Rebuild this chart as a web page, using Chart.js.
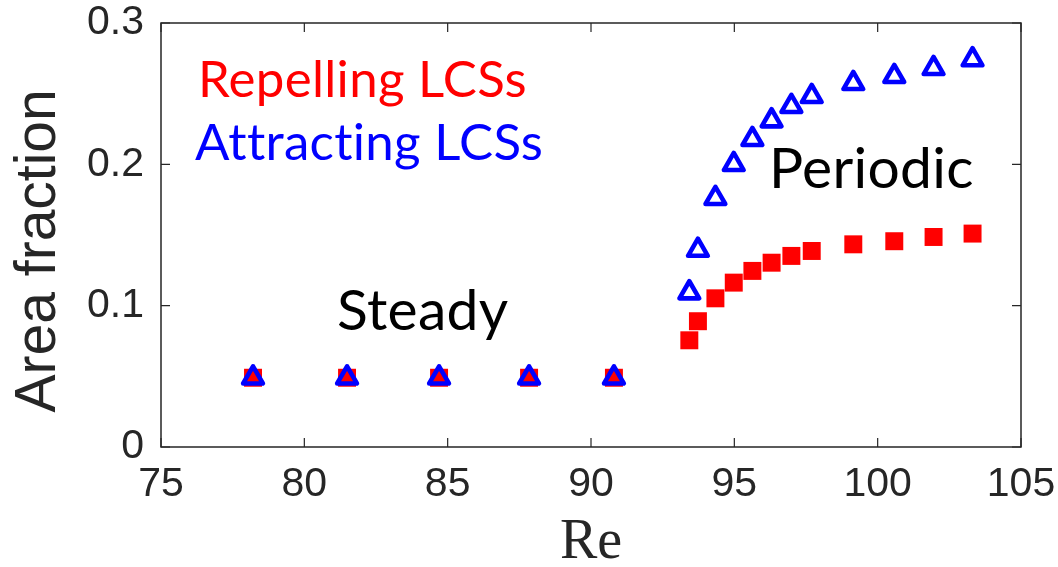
<!DOCTYPE html>
<html>
<head>
<meta charset="utf-8">
<script src="https://cdn.jsdelivr.net/npm/chart.js@4"></script>
<style>
  html, body { margin: 0; padding: 0; background: #ffffff; }
  #wrap { width: 1058px; height: 567px; position: relative; }
</style>
</head>
<body>
<div id="wrap"><canvas id="c" width="1058" height="567"></canvas></div>
<script>
// Data
const reynolds = [78.21, 81.49, 84.70, 87.84, 90.80,
                  93.43, 93.73, 94.34, 94.98, 95.63, 96.30, 96.99, 97.70, 99.15, 100.58, 101.95, 103.31];
const repellingFraction = [0.049, 0.049, 0.049, 0.049, 0.049,
                  0.0755, 0.089, 0.1052, 0.1163, 0.1246, 0.1304, 0.1352, 0.1387, 0.1434, 0.1456, 0.1486, 0.151];
const attractingFraction = [0.049, 0.049, 0.049, 0.049, 0.049,
                  0.1092, 0.1393, 0.176, 0.200, 0.2177, 0.2309, 0.2411, 0.2481, 0.2573, 0.2623, 0.2679, 0.2741];
const xTicks = [75, 80, 85, 90, 95, 100, 105];
const yTicks = [0, 0.1, 0.2, 0.3];
const seriesNames = ['Repelling LCSs', 'Attracting LCSs'];
const seriesColors = ['#ff0000', '#0000ff'];
const regimeLabels = [
  { text: 'Steady', x: 81.14, y: 0.0828 },
  { text: 'Periodic', x: 96.21, y: 0.1833 }
];

const toPoints = (xs, ys) => xs.map((x, i) => ({ x: x, y: ys[i] }));

const axisColor = '#262626';
const tickFont = { family: "'Liberation Sans', Arial, Helvetica, sans-serif", size: 41, lineHeight: 1 };
const textFamily = "Lato, 'Open Sans', sans-serif";

const boxPlugin = {
  id: 'matlabBox',
  beforeDatasetsDraw(chart) {
    chart.ctx.lineJoin = 'round';
  },
  afterDatasetsDraw(chart) {
    const ctx = chart.ctx;
    const a = chart.chartArea;
    const xs = chart.scales.x, ys = chart.scales.y;
    ctx.save();
    ctx.lineJoin = 'miter';
    ctx.strokeStyle = axisColor;
    ctx.lineWidth = 1.5;
    ctx.beginPath();
    ctx.rect(a.left, a.top, a.right - a.left, a.bottom - a.top);
    ctx.stroke();
    ctx.lineWidth = 1.2;
    const tl = 9;
    ctx.beginPath();
    xs.ticks.forEach(t => {
      const px = xs.getPixelForValue(t.value);
      ctx.moveTo(px, a.bottom); ctx.lineTo(px, a.bottom - tl);
      ctx.moveTo(px, a.top); ctx.lineTo(px, a.top + tl);
    });
    ys.ticks.forEach(t => {
      const py = ys.getPixelForValue(t.value);
      ctx.moveTo(a.left, py); ctx.lineTo(a.left + tl, py);
      ctx.moveTo(a.right, py); ctx.lineTo(a.right - tl, py);
    });
    ctx.stroke();
    ctx.restore();
  },
  afterDraw(chart) {
    const ctx = chart.ctx;
    const a = chart.chartArea;
    const xs = chart.scales.x, ys = chart.scales.y;
    ctx.save();
    ctx.textAlign = 'left';
    ctx.textBaseline = 'alphabetic';
    if ('letterSpacing' in ctx) ctx.letterSpacing = '0.3px';
    ctx.font = '51px ' + textFamily;
    // legend (text only, coloured)
    ctx.fillStyle = seriesColors[0];
    ctx.fillText(seriesNames[0], a.left + 37, a.top + 74);
    ctx.fillStyle = seriesColors[1];
    ctx.fillText(seriesNames[1], a.left + 34, a.top + 137);
    // regime annotations
    ctx.font = '57px ' + textFamily;
    ctx.fillStyle = '#000000';
    regimeLabels.forEach(r => {
      ctx.fillText(r.text, xs.getPixelForValue(r.x), ys.getPixelForValue(r.y));
    });
    ctx.restore();
  }
};

new Chart(document.getElementById('c'), {
  type: 'scatter',
  data: {
    datasets: [
      {
        label: seriesNames[0],
        data: toPoints(reynolds, repellingFraction),
        order: 1,
        pointStyle: 'rect',
        pointRadius: 12.7,
        pointHoverRadius: 12.7,
        backgroundColor: seriesColors[0],
        borderColor: seriesColors[0],
        pointBorderWidth: 0,
        clip: false
      },
      {
        label: seriesNames[1],
        data: toPoints(reynolds, attractingFraction),
        order: 0,
        pointStyle: 'triangle',
        pointRadius: 11.4,
        pointHoverRadius: 11.4,
        backgroundColor: 'rgba(0,0,0,0)',
        borderColor: seriesColors[1],
        borderWidth: 4.6,
        pointBorderWidth: 4.6,
        pointHoverBorderWidth: 4.6,
        clip: false
      }
    ]
  },
  options: {
    responsive: false,
    animation: false,
    events: [],
    layout: { padding: { top: 23, right: 37, left: 0, bottom: 0 } },
    plugins: {
      legend: { display: false },
      tooltip: { enabled: false }
    },
    scales: {
      x: {
        type: 'linear',
        min: 75, max: 105,
        afterFit(scale) { scale.height = 120; scale.paddingLeft = 0; scale.paddingRight = 0; },
        afterBuildTicks(scale) { scale.ticks = xTicks.map(v => ({ value: v })); },
        grid: { display: false, drawTicks: false, tickLength: 0 },
        border: { display: false },
        ticks: { color: axisColor, font: tickFont, padding: 17, maxRotation: 0, autoSkip: false },
        title: {
          display: true,
          text: 'Re',
          color: axisColor,
          font: { family: "'Liberation Serif', 'DejaVu Serif', serif", size: 56, lineHeight: 1 },
          padding: { top: 0, bottom: -4 }
        }
      },
      y: {
        type: 'linear',
        min: 0, max: 0.3,
        afterFit(scale) { scale.width = 161; scale.paddingTop = 0; scale.paddingBottom = 0; },
        afterBuildTicks(scale) { scale.ticks = yTicks.map(v => ({ value: v })); },
        grid: { display: false, drawTicks: false, tickLength: 0 },
        border: { display: false },
        ticks: {
          color: axisColor, font: tickFont, padding: 17, autoSkip: false,
          callback: v => (v === 0 ? '0' : v.toFixed(1))
        },
        title: {
          display: true,
          text: 'Area fraction  ',
          color: axisColor,
          font: { family: "'Liberation Sans', Arial, Helvetica, sans-serif", size: 57, lineHeight: 1 },
          padding: { top: 11, bottom: 0 }
        }
      }
    }
  },
  plugins: [boxPlugin]
});
</script>
</body>
</html>
